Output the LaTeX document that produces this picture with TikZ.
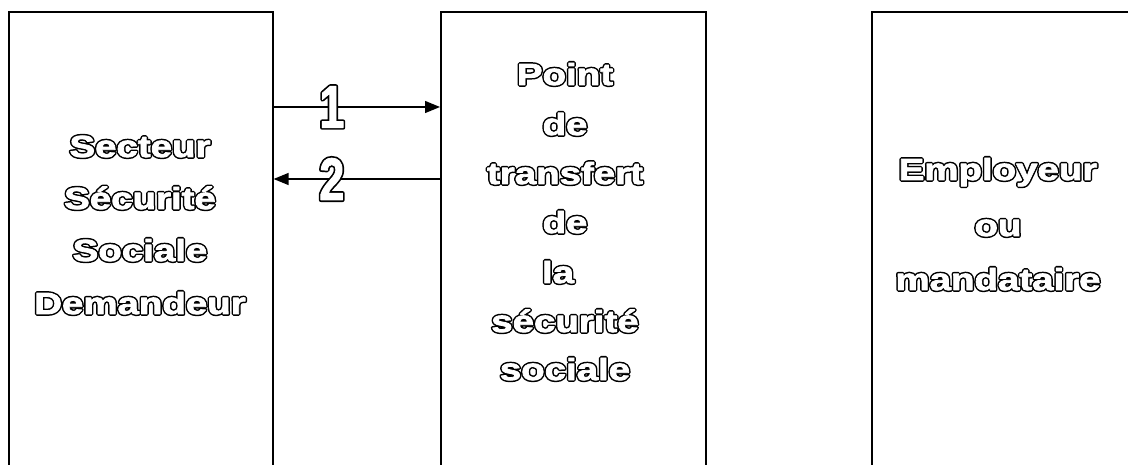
\documentclass[tikz,border=0pt]{standalone}
\usepackage{fontspec}
\setmainfont{Liberation Sans}
\newfontfamily\outfont[FakeStretch=1.26]{Liberation Sans}
\newfontfamily\digfont[FakeStretch=0.75]{Liberation Sans}
\usetikzlibrary{arrows.meta}
% hollow (outlined) text: black wide stroke underneath, white emboldened glyph on top
\newcommand\hollow[2][3.8]{%
  \rlap{\special{pdf:literal direct 1 j 2 Tr #1 w 0 G 0 g}#2}%
  \special{pdf:literal direct 2 Tr 0.8 w 1 G 1 g}#2%
  \special{pdf:literal direct 0 Tr 0 g 0 G 1 w 0 j}}
\tikzset{
  boxst/.style={draw=black, line width=1.6pt, inner sep=0pt, anchor=north west},
  lbl/.style={anchor=base, inner sep=0pt, font=\outfont\bfseries\fontsize{30.5}{30.5}\selectfont},
  dig/.style={anchor=center, inner sep=0pt, font=\digfont\bfseries\fontsize{60}{60}\selectfont},
  arr/.style={line width=1.3pt, -{Triangle[length=15pt,width=12pt]}}
}
\begin{document}
\begin{tikzpicture}[x=1pt,y=-1pt]
\useasboundingbox (0,0) rectangle (1128,465);
\clip (0,0) rectangle (1128,465);
% boxes
\node[boxst, minimum width=264pt, minimum height=520pt] (b1) at (8,11) {};
\node[boxst, minimum width=265pt, minimum height=520pt] (b2) at (440,11) {};
\node[boxst, minimum width=300pt, minimum height=520pt] (b3) at (871,11) {};
% arrows
\draw[arr] (b1.east |- 0,107) -- node[pos=.35, dig] (n1) {\hollow[4.2]{1}} (b2.west |- 0,107);
\draw[arr] (b2.west |- 0,179) -- node[pos=.65, dig] (n2) {\hollow[4.2]{2}} (b1.east |- 0,179);
% box 1 text
\node[lbl] (a1) at (140,157) {\hollow{Secteur}};
\node[lbl] (a2) at (140,209) {\hollow{Sécurité}};
\node[lbl] (a3) at (140,261) {\hollow{Sociale}};
\node[lbl] (a4) at (140,314) {\hollow{Demandeur}};
% box 2 text
\node[lbl] (m1) at (565,85) {\hollow{Point}};
\node[lbl] (m2) at (565,135) {\hollow{de}};
\node[lbl] (m3) at (565,184) {\hollow{transfert}};
\node[lbl] (m4) at (565,233) {\hollow{de}};
\node[lbl] (m5) at (558,283) {\hollow{la}};
\node[lbl] (m6) at (565,332) {\hollow{sécurité}};
\node[lbl] (m7) at (565,380) {\hollow{sociale}};
% box 3 text
\node[lbl] (e1) at (998,180) {\hollow{Employeur}};
\node[lbl] (e2) at (998,236) {\hollow{ou}};
\node[lbl] (e3) at (998,290) {\hollow{mandataire}};
\end{tikzpicture}
\end{document}
